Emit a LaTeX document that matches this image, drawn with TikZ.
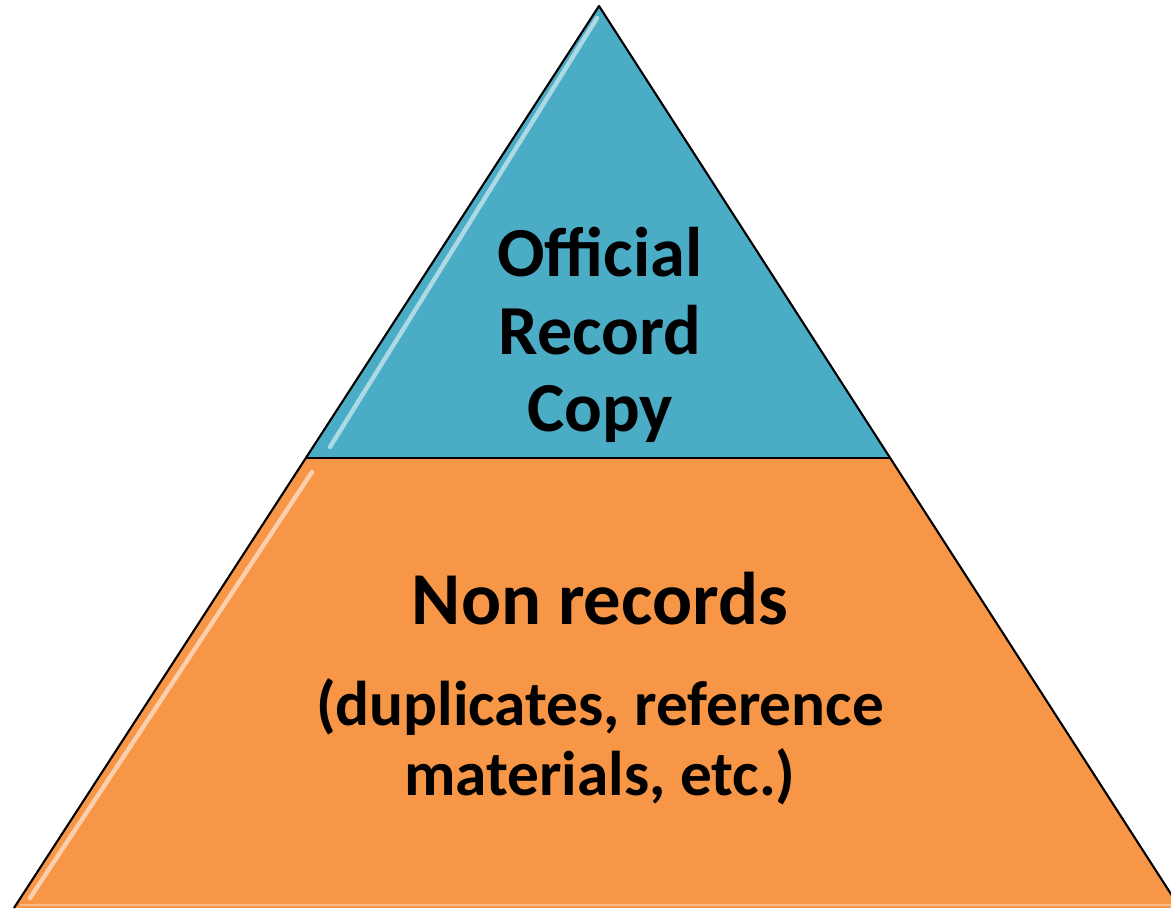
\documentclass[tikz,border=0pt]{standalone}
\usepackage{fontspec}
\setmainfont{Carlito}
\definecolor{tiertop}{HTML}{4BACC6}
\definecolor{tierbase}{HTML}{F79646}
\begin{document}
\begin{tikzpicture}[
        x=0.02cm, y=-0.02cm,
        tier/.style={draw=black, line width=1.2pt, line join=round},
        shine/.style={white, line width=2.5pt, opacity=0.55, line cap=round},
        label/.style={align=center, text=black, font=\bfseries\fontsize{40}{44}\selectfont},
        biglabel/.style={align=center, text=black, font=\bfseries\fontsize{42.5}{44}\selectfont},
        sublabel/.style={align=center, text=black, font=\bfseries\fontsize{36}{39.5}\selectfont}
      ]
      \useasboundingbox (0,0) rectangle (1171,911);
      \clip (0,0) rectangle (1171,911);
      \coordinate (apex) at (599,6);
      \coordinate (ml) at (306,458);
      \coordinate (mr) at (891,458);
      \coordinate (bl) at (14,908);
      \coordinate (br) at (1180,908);
      % the two tiers
      \fill[tierbase] (ml) -- (mr) -- (br) -- (bl) -- cycle;
      \fill[tiertop] (apex) -- (mr) -- (ml) -- cycle;
      \draw[tier] (ml) -- (mr);
      \draw[tier] (bl) -- (apex) -- (br);
      % glossy edges
      \draw[shine] (597,18) -- (330,447);
      \draw[shine] (312,472) -- (30,898);
      \draw[white, line width=1.5pt, opacity=0.35] (20,905) -- (1171,905);
      \node[label] (top) at (600,335) {Official\\Record\\Copy};
      \node[biglabel] (base) at (600,599) {Non records};
      \node[sublabel] (note) at (600,742) {(duplicates, reference\\materials, etc.)};
    \end{tikzpicture}
\end{document}
